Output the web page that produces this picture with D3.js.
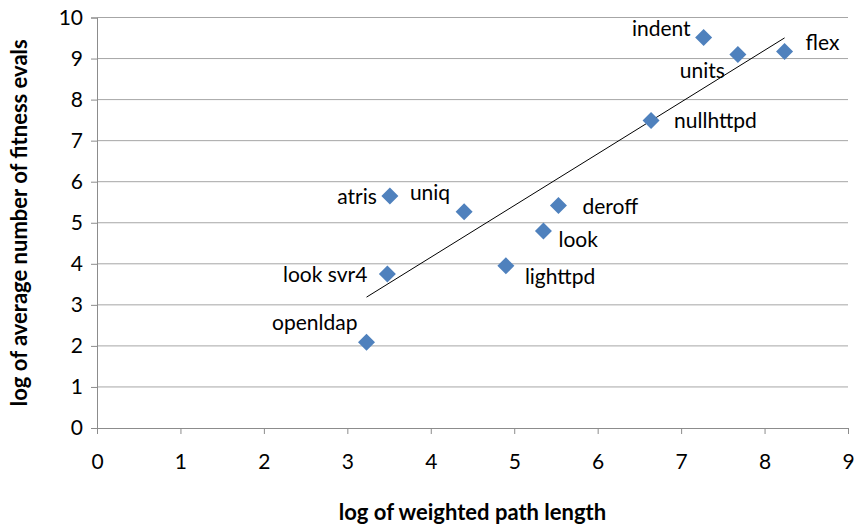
<!DOCTYPE html>
<html>
<head>
<meta charset="utf-8">
<script src="https://cdn.jsdelivr.net/npm/d3@7/dist/d3.min.js"></script>
<style>
  body { margin: 0; background: #fff; }
  svg text { font-family: Lato, "Open Sans", sans-serif; fill: #000; }
</style>
</head>
<body>
<svg id="chart" width="856" height="526"></svg>
<script>
// data
const programs = ["indent", "units", "flex", "nullhttpd", "atris", "uniq",
  "deroff", "look", "lighttpd", "look svr4", "openldap"];
const pathLen = [7.27, 7.68, 8.24, 6.64, 3.51, 4.40, 5.53, 5.35, 4.90, 3.48, 3.23];
const fitnessEvals = [9.51, 9.10, 9.17, 7.49, 5.65, 5.27, 5.42, 4.80, 3.95, 3.75, 2.09];
const xTicks = [0, 1, 2, 3, 4, 5, 6, 7, 8, 9];
const yTicks = [0, 1, 2, 3, 4, 5, 6, 7, 8, 9, 10];

// label placement (dx, dy from point, text-anchor)
const labelPos = {
  "indent": [-13, -2, "end"],
  "units": [-13, 24, "end"],
  "flex": [21, -2, "start"],
  "nullhttpd": [23, 7, "start"],
  "atris": [-13, 8, "end"],
  "uniq": [-14, -12, "end"],
  "deroff": [24, 8, "start"],
  "look": [15, 16, "start"],
  "lighttpd": [19, 18, "start"],
  "look svr4": [-20, 8, "end"],
  "openldap": [-9, -12, "end"]
};

const margin = { top: 17.5, right: 8, bottom: 98, left: 97 };
const width = 856, height = 526;
const svg = d3.select("#chart");
const g = svg.append("g").attr("transform", "translate(" + margin.left + "," + margin.top + ")");
const w = width - margin.left - margin.right;
const h = height - margin.top - margin.bottom;

const x = d3.scaleLinear().domain([0, 9]).range([0, w]);
const y = d3.scaleLinear().domain([0, 10]).range([h, 0]);

// gridlines
g.selectAll(".grid")
  .data(yTicks.filter(d => d > 0))
  .join("line")
  .attr("class", "grid")
  .attr("x1", 0).attr("x2", w)
  .attr("y1", d => y(d)).attr("y2", d => y(d))
  .attr("stroke", "#a6a6a6").attr("stroke-width", 1);

// axes
const yAxis = g.append("g")
  .call(d3.axisLeft(y).tickValues(yTicks).tickSize(6).tickPadding(8).tickFormat(d3.format("d")));
const xAxis = g.append("g")
  .attr("transform", "translate(0," + h + ")")
  .call(d3.axisBottom(x).tickValues(xTicks).tickSize(6).tickPadding(20).tickFormat(d3.format("d")));
[xAxis, yAxis].forEach(a => {
  a.select(".domain").attr("stroke", "#8c8c8c");
  a.selectAll(".tick line").attr("stroke", "#8c8c8c");
  a.selectAll(".tick text").style("font-size", "21px").attr("fill", "#222");
});
xAxis.selectAll(".tick text").attr("dy", "0.71em");

// linear trendline (least squares)
const pts = programs.map((p, i) => ({ name: p, x: pathLen[i], y: fitnessEvals[i] }));
const mx = d3.mean(pts, d => d.x), my = d3.mean(pts, d => d.y);
const slope = d3.sum(pts, d => (d.x - mx) * (d.y - my)) / d3.sum(pts, d => (d.x - mx) ** 2);
const icpt = my - slope * mx;
const [x0, x1] = d3.extent(pathLen);
g.append("line")
  .attr("x1", x(x0)).attr("y1", y(icpt + slope * x0))
  .attr("x2", x(x1)).attr("y2", y(icpt + slope * x1))
  .attr("stroke", "#000").attr("stroke-width", 1);

// diamonds
const r = 8.5;
g.selectAll(".pt")
  .data(pts)
  .join("path")
  .attr("class", "pt")
  .attr("d", d => {
    const cx = x(d.x), cy = y(d.y);
    return `M${cx},${cy - r}L${cx + r},${cy}L${cx},${cy + r}L${cx - r},${cy}Z`;
  })
  .attr("fill", "#4f81bd");

// labels
g.selectAll(".lbl")
  .data(pts)
  .join("text")
  .attr("class", "lbl")
  .attr("x", d => x(d.x) + labelPos[d.name][0])
  .attr("y", d => y(d.y) + labelPos[d.name][1])
  .attr("text-anchor", d => labelPos[d.name][2])
  .style("font-size", "21px")
  .attr("fill", "#222")
  .text(d => d.name);

// axis titles
svg.append("text")
  .attr("x", margin.left + w / 2).attr("y", 520)
  .attr("text-anchor", "middle")
  .style("font-size", "22px").style("font-weight", "bold")
  .text("log of weighted path length");
svg.append("text")
  .attr("transform", "translate(27," + (margin.top + h / 2) + ") rotate(-90)")
  .attr("text-anchor", "middle")
  .style("font-size", "22px").style("font-weight", "bold")
  .text("log of average number of fitness evals");
</script>
</body>
</html>
